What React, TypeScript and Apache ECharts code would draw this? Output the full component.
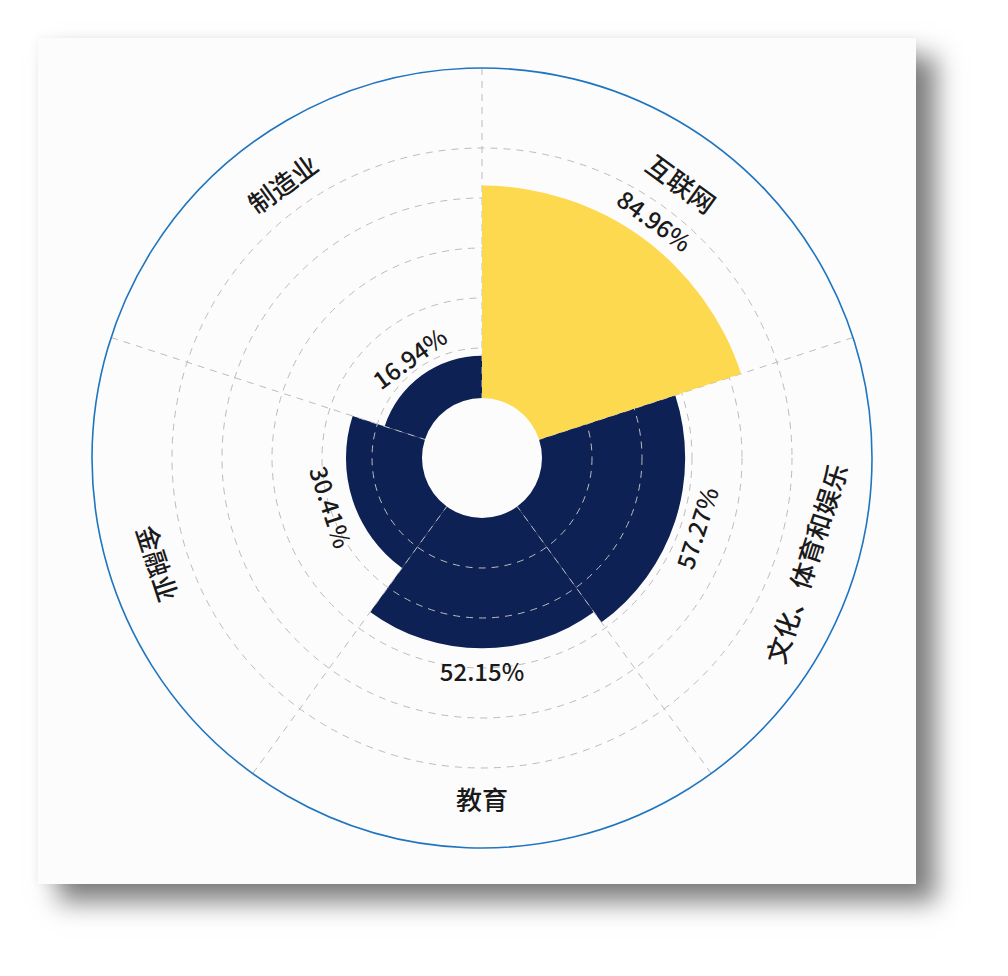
import React, { useEffect, useRef } from 'react';
import * as echarts from 'echarts';

// industry share (%)
const categories = ['互联网', '文化、体育和娱乐', '教育', '金融业', '制造业'];
const shares = [84.96, 57.27, 52.15, 30.41, 16.94];
const highlightIndex = 0;

// radius axis: dashed rings every 20, outer ring sits a bit past 120
const RADIUS_MAX = 132;
const RADIUS_STEP = 20;

const FONT = '"Noto Sans CJK SC", "Noto Sans", sans-serif';
const NAVY = '#0d2155';
const YELLOW = '#fdd94f';
const GRID = '#bcbcbc';
const NONE = 'rgba(0,0,0,0)';

// keep labels tangential and upright (bottom half flipped); radians for polar bar labels
function tangentRotate(i: number, n: number) {
  const theta = ((i + 0.5) * 360) / n;
  const deg = theta > 90 && theta < 270 ? 180 - theta : -theta;
  return (deg * Math.PI) / 180;
}

export default function App() {
  const chartRef = useRef<HTMLDivElement>(null);

  useEffect(() => {
    if (!chartRef.current) return;
    const chart = echarts.init(chartRef.current, null, { renderer: 'svg' });
    const n = categories.length;

    const barBase = {
      type: 'bar' as const,
      coordinateSystem: 'polar',
      polarIndex: 0,
      barCategoryGap: '0%',
      barGap: '-100%',
      silent: true,
    };

    chart.setOption({
      animation: false,
      polar: [
        { center: [444, 420], radius: [60, 390] },
        // only used for the solid outer ring
        { center: [444, 420], radius: [0, 390] },
      ],
      angleAxis: [
        {
          polarIndex: 0,
          type: 'category',
          data: categories,
          startAngle: 90,
          clockwise: true,
          z: 3,
          axisLine: { show: false },
          axisTick: { show: false },
          axisLabel: { show: false },
          splitLine: { show: true, lineStyle: { color: GRID, width: 1, type: [7, 6] } },
        },
        {
          polarIndex: 1,
          type: 'value',
          z: 3,
          axisLine: { show: true, lineStyle: { color: '#1f75bf', width: 1.6 } },
          axisTick: { show: false },
          axisLabel: { show: false },
          splitLine: { show: false },
        },
      ],
      radiusAxis: [
        {
          polarIndex: 0,
          type: 'value',
          min: 0,
          max: RADIUS_MAX,
          interval: RADIUS_STEP,
          z: 3,
          axisLine: { show: false },
          axisTick: { show: false },
          axisLabel: { show: false },
          splitLine: {
            show: true,
            lineStyle: {
              // ticks: 0, 20 ... 120, 132 -> only 20..100 drawn
              color: [NONE, GRID, GRID, GRID, GRID, GRID, NONE, NONE],
              width: 1,
              type: [7, 6],
            },
          },
        },
        {
          polarIndex: 1,
          type: 'value',
          axisLine: { show: false },
          axisTick: { show: false },
          axisLabel: { show: false },
          splitLine: { show: false },
        },
      ],
      series: [
        {
          ...barBase,
          name: 'others',
          z: 2,
          data: shares.map((v, i) => (i === highlightIndex ? '-' : v)),
          itemStyle: { color: NAVY },
        },
        {
          ...barBase,
          name: 'top',
          z: 4,
          data: shares.map((v, i) => (i === highlightIndex ? v : '-')),
          itemStyle: { color: YELLOW },
        },
        {
          // value labels at bar ends
          ...barBase,
          name: 'values',
          z: 6,
          data: shares.map((v, i) => ({ value: v, label: { rotate: tangentRotate(i, n) } })),
          itemStyle: { color: NONE },
          label: {
            show: true,
            position: 'end',
            distance: 22,
            formatter: '{c}%',
            align: 'center',
            verticalAlign: 'middle',
            fontSize: 24,
            fontWeight: 500,
            color: '#1a1a1a',
            fontFamily: FONT,
          },
        },
        {
          // category names near the outer ring
          ...barBase,
          name: 'names',
          z: 6,
          data: categories.map((c, i) => ({ value: RADIUS_MAX, label: { rotate: tangentRotate(i, n) } })),
          itemStyle: { color: NONE },
          label: {
            show: true,
            position: 'insideEnd',
            distance: 50,
            formatter: '{b}',
            align: 'center',
            verticalAlign: 'middle',
            fontSize: 26,
            fontWeight: 500,
            color: '#1a1a1a',
            fontFamily: FONT,
          },
        },
      ],
    });

    return () => chart.dispose();
  }, []);

  return (
    <div
      style={{
        position: 'absolute',
        left: 38,
        top: 38,
        width: 878,
        height: 846,
        background: '#fdfcfd',
        boxShadow: '20px 18px 24px rgba(0,0,0,0.5), 0 0 10px rgba(0,0,0,0.06)',
      }}
    >
      <div ref={chartRef} style={{ width: '100%', height: '100%' }} />
    </div>
  );
}
